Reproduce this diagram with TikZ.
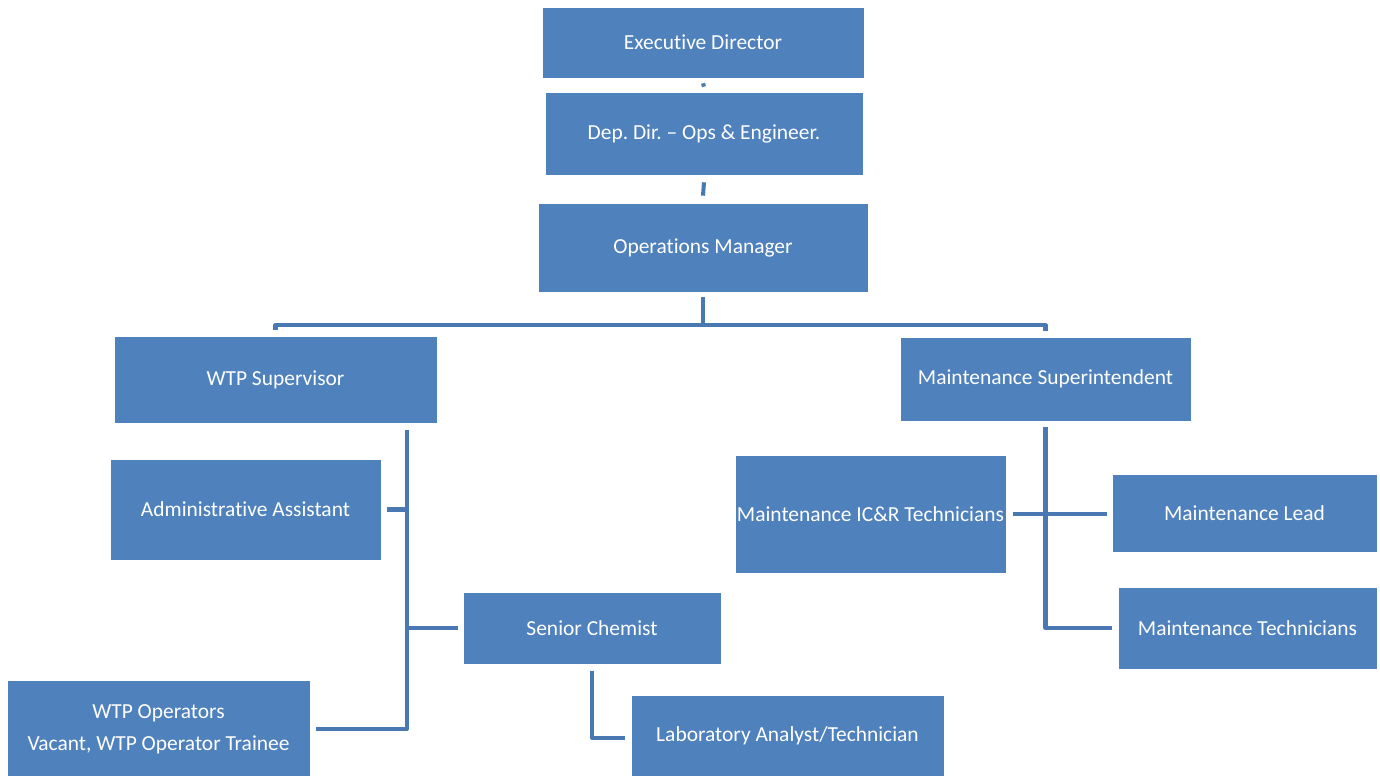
\documentclass[tikz,border=0pt]{standalone}
\usepackage{fontspec}
\setmainfont{Carlito}[Ligatures={TeX,NoCommon}]
\usepackage{tikz}
\usetikzlibrary{calc,positioning}
\definecolor{boxblue}{HTML}{4F81BD}
\definecolor{lineblue}{HTML}{4A78B3}
\frenchspacing

\begin{document}
\begin{tikzpicture}[x=0.02cm,y=-0.02cm,
    box/.style={fill=boxblue,draw=white,line width=0.4pt,text=white,inner sep=0,align=center,font=\fontsize{12.2}{18}\selectfont},
    conn/.style={lineblue,line width=2.3pt,line join=round}]
          \useasboundingbox (0,0) rectangle (1380,776);
          % top of the chart
          \node[box,minimum width=6.44cm,minimum height=1.42cm] (exec) at (703,42.5) {Executive Director};
          \node[box,minimum width=6.36cm,minimum height=1.66cm] (dep) at (704,133.5) {Dep. Dir. \textendash{} Ops \& Engineer.};
          \node[box,minimum width=6.6cm,minimum height=1.78cm] (ops) at (703,247.5) {Operations Manager};
          % second level
          \node[box,minimum width=6.46cm,minimum height=1.74cm] (wtp) at (275.5,379.5) {WTP Supervisor};
          \node[box,minimum width=5.82cm,minimum height=1.68cm] (msup) at (1045.5,379) {Maintenance Superintendent};
          % plant side
          \node[box,minimum width=5.42cm,minimum height=2.02cm] (admin) at (245.5,509.5) {Administrative Assistant};
          \node[box,minimum width=5.16cm,minimum height=1.44cm] (chem) at (592,628) {Senior Chemist};
          \node[box,minimum width=6.06cm,minimum height=1.94cm] (oper) at (158.5,729) {WTP Operators\\Vacant, WTP Operator Trainee};
          \node[box,minimum width=6.26cm,minimum height=1.62cm] (lab) at (787.5,735.5) {Laboratory Analyst/Technician};
          % maintenance side
          \node[box,minimum width=5.42cm,minimum height=2.36cm] (icr) at (870.5,514) {Maintenance IC\&R Technicians};
          \node[box,minimum width=5.3cm,minimum height=1.56cm] (mlead) at (1244.5,513) {Maintenance Lead};
          \node[box,minimum width=5.18cm,minimum height=1.64cm] (mtech) at (1247.5,628) {Maintenance Technicians};
          % connectors
          \coordinate (split) at (703,325);
          \coordinate (wbus) at (407,0);
          \draw[conn] ([yshift=-0.1cm]exec.south) -- ([yshift=0.1cm]dep.north);
          \draw[conn] ([yshift=-0.14cm]dep.south) -- ([yshift=0.14cm]ops.north);
          \draw[conn] ([yshift=-0.1cm]ops.south) -- (split);
          \draw[conn] ([yshift=0.12cm]wtp.north) |- (split) -| ([yshift=0.12cm]msup.north);
          \draw[conn] ([yshift=-0.14cm]wtp.south -| wbus) |- ([xshift=0.12cm]oper.east);
          \draw[conn] ([xshift=0.12cm]admin.east) -- (admin.east -| wbus);
          \draw[conn] ([xshift=-0.1cm]chem.west) -- (chem.west -| wbus);
          \draw[conn] ([yshift=-0.14cm]chem.south) |- ([xshift=-0.12cm,yshift=-0.05cm]lab.west);
          \draw[conn] ([yshift=-0.12cm]msup.south) |- ([xshift=-0.12cm]mtech.west);
          \draw[conn] ([xshift=0.14cm]icr.east) -- ([xshift=-0.1cm]mlead.west |- icr.east);
\end{tikzpicture}
\end{document}
